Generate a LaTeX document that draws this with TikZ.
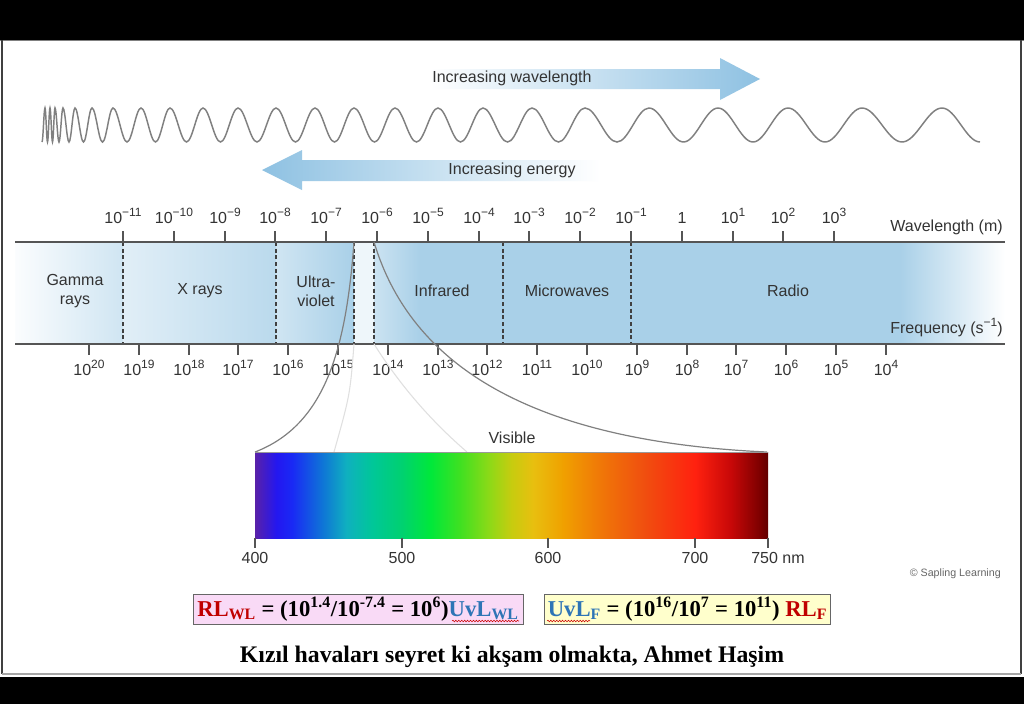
\documentclass[tikz,border=0pt]{standalone}
\usepackage{fontspec}
\setmainfont{Liberation Serif}
\setsansfont{Liberation Sans}
\usetikzlibrary{decorations.pathmorphing}

\definecolor{axisgray}{HTML}{555555}
\definecolor{labelgray}{HTML}{333333}
\definecolor{wavegray}{HTML}{808080}
\definecolor{arrowblue}{HTML}{8EC1E2}
\definecolor{bandblue}{HTML}{A9D0E8}
\definecolor{rlred}{HTML}{C00000}
\definecolor{uvblue}{HTML}{2E75B6}
\definecolor{eqpink}{HTML}{F9DAF6}
\definecolor{eqyellow}{HTML}{FFFFCC}

\newcommand{\spow}[1]{\raisebox{0.42em}{\fontsize{9}{9}\selectfont #1}}
\newcommand{\tenpow}[1]{10\spow{#1}}

\pgfdeclarehorizontalshading{visspec}{100bp}{%
  rgb(0bp)=(0.35,0.13,0.66); rgb(25bp)=(0.35,0.13,0.66);
  rgb(27.1bp)=(0.14,0.09,0.94); rgb(28.6bp)=(0.10,0.16,0.96);
  rgb(31.4bp)=(0.06,0.44,0.85); rgb(33.9bp)=(0.06,0.69,0.75);
  rgb(36.4bp)=(0,0.78,0.60); rgb(39.3bp)=(0,0.82,0.44);
  rgb(42.1bp)=(0,0.91,0.23); rgb(45bp)=(0.25,0.88,0.13);
  rgb(47.9bp)=(0.56,0.85,0.09); rgb(50bp)=(0.78,0.80,0.06);
  rgb(52.1bp)=(0.91,0.75,0.06); rgb(55bp)=(0.94,0.63,0);
  rgb(58.6bp)=(0.94,0.47,0.03); rgb(62.9bp)=(0.94,0.31,0.06);
  rgb(67.9bp)=(1,0.13,0.06); rgb(71.4bp)=(0.78,0.03,0.03);
  rgb(74.3bp)=(0.48,0,0); rgb(75bp)=(0.38,0,0); rgb(100bp)=(0.38,0,0)}

\begin{document}
\begin{tikzpicture}[x=0.75pt, y=-0.75pt,
    font=\sffamily\fontsize{12}{14}\selectfont, text=labelgray,
    axis/.style={draw=axisgray, line width=1.2pt},
    tick/.style={draw=axisgray, line width=1pt},
    divider/.style={draw=black!75, line width=0.9pt, dash pattern=on 3pt off 2pt},
    numlab/.style={anchor=base, inner sep=0pt},
    region/.style={align=center, inner sep=0pt},
    wave/.style={draw=wavegray, line width=1.1pt},
    funnel/.style={draw=black!50, line width=0.9pt},
    faint/.style={draw=black!12, line width=0.8pt},
    eqbox/.style={draw=black!60, line width=0.6pt, minimum height=22.5pt, inner sep=0pt,
      font=\rmfamily\bfseries\fontsize{17}{20}\selectfont, text=black},
    squiggle/.style={draw=red!80!black, line width=0.4pt, decorate,
      decoration={snake, amplitude=0.6pt, segment length=2.2pt}}]
\useasboundingbox (0,0) rectangle (1024,704);
% Frame
    \fill[black] (0,0) rectangle (1024,704);
    \fill[white] (0,40) rectangle (1024,677);
    \draw[black!50, line width=0.8pt] (0,40.5) -- (1024,40.5);
    \draw[black!75, line width=1pt] (2,40) -- (2,674);
    \draw[black!75, line width=1pt] (1021,40) -- (1021,674);
    \draw[black!35, line width=1.5pt] (2,674) -- (1021,674);
% Arrows
    \shade[left color=white, right color=arrowblue] (430,69) -- (720,69) -- (720,58)
        -- (760,79) -- (720,100) -- (720,89) -- (430,89) -- cycle;
    \shade[left color=arrowblue, right color=white] (262,170) -- (302,150) -- (302,160)
        -- (600,160) -- (600,181) -- (302,181) -- (302,190) -- cycle;
    \node (incwl) at (512,78) {Increasing wavelength};
    \node (incen) at (512,170) {Increasing energy};
% Wave
    \draw[wave] (42,142) cos (43.5,125) sin (45,108)
        \foreach \a/\b in {45/50, 50/55, 55/63, 63/75, 75/92, 92/113, 113/141, 141/170,
            170/203, 203/238, 238/276, 276/315, 315/354, 354/395, 395/438, 438/483,
            483/532, 532/585, 585/649, 649/718, 718/788, 788/862, 862/942}
        { cos ({\a+(\b-\a)/4},125) sin ({(\a+\b)/2},142) cos ({\b-(\b-\a)/4},125) sin (\b,108) }
        cos (961,125) sin (980,142);
% Band fill
    \shade[left color=white!95!bandblue, right color=bandblue!55] (15,242) rectangle (123,344);
    \shade[left color=bandblue!35, right color=bandblue!80] (123,242) rectangle (276,344);
    \shade[left color=bandblue!55, right color=bandblue] (276,242) rectangle (354,344);
    \fill[bandblue!20] (354,242) rectangle (374,344);
    \shade[left color=bandblue!60, right color=bandblue] (374,242) rectangle (420,344);
    \fill[bandblue] (420,242) rectangle (900,344);
    \shade[left color=bandblue, right color=white] (900,242) rectangle (1005,344);
% Region dividers
    \draw[divider] (123,242) -- (123,344);
    \draw[divider] (276,242) -- (276,344);
    \draw[divider] (354,242) -- (354,344);
    \draw[divider] (374,242) -- (374,344);
    \draw[divider] (503,242) -- (503,344);
    \draw[divider] (631,242) -- (631,344);
% Band edges
    \draw[axis] (15,242) -- (1005,242);
    \draw[axis] (15,344) -- (1005,344);
% Wavelength ticks
    \draw[tick] (123,231) -- (123,242) (174,231) -- (174,242) (225,231) -- (225,242)
        (275,231) -- (275,242) (326,231) -- (326,242) (377,231) -- (377,242)
        (428,231) -- (428,242) (479,231) -- (479,242) (529,231) -- (529,242)
        (580,231) -- (580,242) (631,231) -- (631,242) (682,231) -- (682,242)
        (733,231) -- (733,242) (783,231) -- (783,242) (834,231) -- (834,242);
    \node[numlab] (wl-11) at (123,223) {\tenpow{−11}};
    \node[numlab] (wl-10) at (174,223) {\tenpow{−10}};
    \node[numlab] (wl-9) at (225,223) {\tenpow{−9}};
    \node[numlab] (wl-8) at (275,223) {\tenpow{−8}};
    \node[numlab] (wl-7) at (326,223) {\tenpow{−7}};
    \node[numlab] (wl-6) at (377,223) {\tenpow{−6}};
    \node[numlab] (wl-5) at (428,223) {\tenpow{−5}};
    \node[numlab] (wl-4) at (479,223) {\tenpow{−4}};
    \node[numlab] (wl-3) at (529,223) {\tenpow{−3}};
    \node[numlab] (wl-2) at (580,223) {\tenpow{−2}};
    \node[numlab] (wl-1) at (631,223) {\tenpow{−1}};
    \node[numlab] (wl0) at (682,223) {1};
    \node[numlab] (wl1) at (733,223) {\tenpow{1}};
    \node[numlab] (wl2) at (783,223) {\tenpow{2}};
    \node[numlab] (wl3) at (834,223) {\tenpow{3}};
    \node[anchor=base east, inner sep=0pt] (wltitle) at (1003,231) {Wavelength (m)};
% Frequency ticks
    \draw[tick] (89,344) -- (89,355) (139,344) -- (139,355) (189,344) -- (189,355)
        (238,344) -- (238,355) (288,344) -- (288,355) (338,344) -- (338,355)
        (388,344) -- (388,355) (438,344) -- (438,355) (487,344) -- (487,355)
        (537,344) -- (537,355) (587,344) -- (587,355) (637,344) -- (637,355)
        (687,344) -- (687,355) (736,344) -- (736,355) (786,344) -- (786,355)
        (836,344) -- (836,355) (886,344) -- (886,355);
    \node[numlab] (fq20) at (89,375) {\tenpow{20}};
    \node[numlab] (fq19) at (139,375) {\tenpow{19}};
    \node[numlab] (fq18) at (189,375) {\tenpow{18}};
    \node[numlab] (fq17) at (238,375) {\tenpow{17}};
    \node[numlab] (fq16) at (288,375) {\tenpow{16}};
    \node[numlab] (fq15) at (338,375) {\tenpow{15}};
    \node[numlab] (fq14) at (388,375) {\tenpow{14}};
    \node[numlab] (fq13) at (438,375) {\tenpow{13}};
    \node[numlab] (fq12) at (487,375) {\tenpow{12}};
    \node[numlab] (fq11) at (537,375) {\tenpow{11}};
    \node[numlab] (fq10) at (587,375) {\tenpow{10}};
    \node[numlab] (fq9) at (637,375) {\tenpow{9}};
    \node[numlab] (fq8) at (687,375) {\tenpow{8}};
    \node[numlab] (fq7) at (736,375) {\tenpow{7}};
    \node[numlab] (fq6) at (786,375) {\tenpow{6}};
    \node[numlab] (fq5) at (836,375) {\tenpow{5}};
    \node[numlab] (fq4) at (886,375) {\tenpow{4}};
    \node[anchor=base east, inner sep=0pt] (fqtitle) at (1003,333) {Frequency (s\spow{−1})};
% Region names
    \node[region] (gamma) at (75,291) {Gamma\\rays};
    \node[region] (xrays) at (200,291) {X rays};
    \node[region] (uv) at (316,291) {Ultra-\\violet};
    \node[region] (ir) at (442,291) {Infrared};
    \node[region] (micro) at (567,291) {Microwaves};
    \node[region] (radio) at (788,291) {Radio};
% Visible spectrum
    \shade[shading=visspec] (255,452) rectangle (768,538);
    \draw[faint] (354,344) .. controls (350,395) .. (334,452);
    \draw[faint] (374,344) .. controls (400,385) and (430,420) .. (467,452);
    \draw[funnel] (354,242) .. controls (346,350) and (325,425) .. (255,452);
    \draw[funnel] (374,242) .. controls (405,345) and (500,440) .. (767,452);
    \draw[black!40, line width=0.5pt] (255,452) -- (768,452);
    \node (visible) at (512,438) {Visible};
    \draw[tick] (255,538) -- (255,548) (402,538) -- (402,548) (548,538) -- (548,548)
        (695,538) -- (695,548) (768,538) -- (768,548);
    \node[numlab] (nm400) at (255,563) {400};
    \node[numlab] (nm500) at (402,563) {500};
    \node[numlab] (nm600) at (548,563) {600};
    \node[numlab] (nm700) at (695,563) {700};
    \node[anchor=base west, inner sep=0pt] (nm750) at (751,563) {750 nm};
    \node[anchor=base east, inner sep=0pt, text=black!60, font=\sffamily\fontsize{8}{9}\selectfont]
        (sapling) at (1001,576) {\textcopyright{} Sapling Learning};
% Ratios
    \node[eqbox, fill=eqpink, minimum width=247.5pt] (ratiowl) at (358,609)
        {{\color{rlred}RL\textsubscript{WL}} = (10\textsuperscript{1.4}/10\textsuperscript{-7.4} = 10\textsuperscript{6}){\color{uvblue}UvL\textsubscript{WL}}};
    \node[eqbox, fill=eqyellow, minimum width=215pt] (ratiof) at (687.5,609)
        {{\color{uvblue}UvL\textsubscript{F}} = (10\textsuperscript{16}/10\textsuperscript{7} = 10\textsuperscript{11}) {\color{rlred}RL\textsubscript{F}}};
    \draw[squiggle] (452,621) -- (519,621);
    \draw[squiggle] (547,621) -- (590,621);
    \node[font=\rmfamily\bfseries\fontsize{17.8}{21}\selectfont, text=black] (poem) at (512,657)
        {Kızıl havaları seyret ki akşam olmakta, Ahmet Haşim};
\end{tikzpicture}
\end{document}
